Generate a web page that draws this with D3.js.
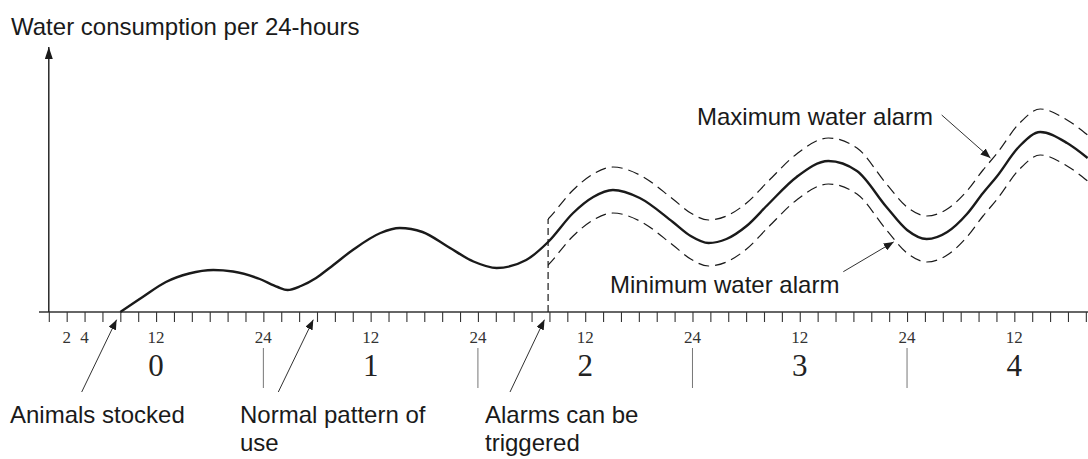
<!DOCTYPE html>
<html>
<head>
<meta charset="utf-8">
<script src="https://cdn.jsdelivr.net/npm/d3@7"></script>
<style>
  body { margin: 0; background: #fff; }
  svg { display: block; }
</style>
</head>
<body>
<svg id="chart" width="1088" height="459"></svg>
<script>
// ---- data ---------------------------------------------------------------
// Hours since day 0 began, and water consumption (arbitrary units) at each hour.
const usageHours  = [8, 10.5, 13.1, 15.7, 18.4, 20.6, 23.6, 25.6, 26.7, 28.2,
                     29.9, 31.4, 34.0, 37.1, 39.25, 41.8, 44.7, 47.5, 50.1, 53.4,
                     55.85, 58.65, 60.9, 63.1, 66.1, 69.8, 71.8, 73.8, 75.8, 78.05,
                     80.5, 83.65, 87.2, 90.4, 93.7, 96.0, 98.2, 100.5, 102.7, 104.5,
                     106.0, 108.6, 110.9, 113.9, 116.2];
const usageValues = [0, 15, 30, 38.5, 42, 40.5, 33, 25, 22, 26,
                     34, 44, 62, 79, 84, 80, 65, 50.5, 44, 52,
                     70, 99, 115, 122, 114, 90, 76, 69, 73, 86,
                     108, 135, 151, 141, 105, 82, 73, 80, 98, 119,
                     135, 166, 180, 169, 154];

// Alarms become active from this hour, with a band of +/- alarmMargin around the usage.
const alarmStartHour = 55.85;
const alarmMargin = 23;

// Hour-of-day labels under the axis.
const hourLabelHours = [2, 4, 12, 24, 36, 48, 60, 72, 84, 96, 108];
const hourLabelTexts = ["2", "4", "12", "24", "12", "24", "12", "24", "12", "24", "12"];

// Day numbers, centred on midday of each day.
const dayCentreHours = [12, 36, 60, 84, 108];
const dayLabels = ["0", "1", "2", "3", "4"];

// Day boundaries (24 h marks).
const dayBoundaryHours = [24, 48, 72, 96];

const tickStepHours = 2;
const lastTickHour = 116;

// ---- layout -------------------------------------------------------------
const W = 1088, H = 459;
const svg = d3.select("#chart");

const x = d3.scaleLinear().domain([0, 120]).range([48.8, 48.8 + 120 * 8.94]);
const y = d3.scaleLinear().domain([0, 265]).range([312, 47]);

const usage = usageHours.map((h, i) => ({ h, v: usageValues[i] }));

const sans = "'Liberation Sans', Arial, sans-serif";
const serif = "'Liberation Serif', 'Times New Roman', serif";
const ink = "#1a1a1a";

// arrowhead markers
const defs = svg.append("defs");
function addArrow(id, len, halfW) {
  defs.append("marker")
    .attr("id", id)
    .attr("markerUnits", "userSpaceOnUse")
    .attr("viewBox", `0 ${-halfW} ${len} ${2 * halfW}`)
    .attr("refX", len).attr("refY", 0)
    .attr("markerWidth", len).attr("markerHeight", 2 * halfW)
    .attr("orient", "auto")
    .append("path")
    .attr("d", `M0,${-halfW}L${len},0L0,${halfW}Z`)
    .attr("fill", ink);
}
addArrow("axisHead", 12, 4);
addArrow("callHead", 10, 4);

defs.append("clipPath").attr("id", "alarmClip")
  .append("rect")
  .attr("x", x(alarmStartHour)).attr("y", 0)
  .attr("width", W - x(alarmStartHour)).attr("height", H);

// ---- axes ---------------------------------------------------------------
const xAxis = d3.axisBottom(x)
  .tickValues(d3.range(0, lastTickHour + 1, tickStepHours))
  .tickSize(10)
  .tickFormat("");
const gx = svg.append("g").attr("transform", `translate(0,${y(0)})`).call(xAxis);
gx.select(".domain").remove();
gx.selectAll(".tick line").attr("stroke", "#333").attr("stroke-width", 1.1);

// horizontal axis line
svg.append("line")
  .attr("x1", 39).attr("x2", W)
  .attr("y1", y(0)).attr("y2", y(0))
  .attr("stroke", "#333").attr("stroke-width", 1.6);

// vertical axis with arrow
svg.append("line")
  .attr("x1", x(0)).attr("x2", x(0))
  .attr("y1", y(0)).attr("y2", y(265))
  .attr("stroke", ink).attr("stroke-width", 1.4)
  .attr("marker-end", "url(#axisHead)");

svg.append("text")
  .attr("x", 11).attr("y", 35)
  .attr("font-family", sans).attr("font-size", 24).attr("fill", ink)
  .text("Water consumption per 24-hours");

// hour labels
svg.append("g").selectAll("text")
  .data(hourLabelHours)
  .join("text")
  .attr("x", d => x(d))
  .attr("y", 343)
  .attr("text-anchor", "middle")
  .attr("font-family", serif).attr("font-size", 17).attr("fill", "#333")
  .text((d, i) => hourLabelTexts[i]);

// day numbers
svg.append("g").selectAll("text")
  .data(dayCentreHours)
  .join("text")
  .attr("x", d => x(d))
  .attr("y", 376)
  .attr("text-anchor", "middle")
  .attr("font-family", serif).attr("font-size", 31).attr("fill", "#222")
  .text((d, i) => dayLabels[i]);

// day separators
svg.append("g").selectAll("line")
  .data(dayBoundaryHours)
  .join("line")
  .attr("x1", d => x(d)).attr("x2", d => x(d))
  .attr("y1", 348).attr("y2", 388)
  .attr("stroke", "#777").attr("stroke-width", 1);

// ---- curves -------------------------------------------------------------
const smooth = d3.curveMonotoneX;
const line = d3.line().x(d => x(d.h)).y(d => y(d.v)).curve(smooth);

const usagePath = svg.append("path")
  .datum(usage)
  .attr("d", line)
  .attr("fill", "none").attr("stroke", ink).attr("stroke-width", 2.4);

const alarmLine = offset => d3.line()
  .x(d => x(d.h)).y(d => y(d.v + offset))
  .curve(smooth);

const upperPath = svg.append("path")
  .datum(usage)
  .attr("d", alarmLine(alarmMargin))
  .attr("clip-path", "url(#alarmClip)")
  .attr("fill", "none").attr("stroke", ink).attr("stroke-width", 1.2)
  .attr("stroke-dasharray", "11,6");

const lowerPath = svg.append("path")
  .datum(usage)
  .attr("d", alarmLine(-alarmMargin))
  .attr("clip-path", "url(#alarmClip)")
  .attr("fill", "none").attr("stroke", ink).attr("stroke-width", 1.2)
  .attr("stroke-dasharray", "11,6");

// y on a rendered path for a given pixel x
function pathYAt(node, px) {
  const total = node.getTotalLength();
  let lo = 0, hi = total;
  for (let k = 0; k < 40; k++) {
    const mid = (lo + hi) / 2;
    if (node.getPointAtLength(mid).x < px) lo = mid; else hi = mid;
  }
  return node.getPointAtLength((lo + hi) / 2).y;
}

// alarm start marker, up to where the upper alarm band begins
svg.append("line")
  .attr("x1", x(alarmStartHour)).attr("x2", x(alarmStartHour))
  .attr("y1", y(0)).attr("y2", pathYAt(upperPath.node(), x(alarmStartHour)))
  .attr("stroke", ink).attr("stroke-width", 1.2)
  .attr("stroke-dasharray", "7,4");

// ---- callouts -----------------------------------------------------------
const callouts = [
  { lines: ["Animals stocked"], tx: 10, ty: 423, tail: [81.7, 392],
    hour: 8, on: null, gap: 8.5 },
  { lines: ["Normal pattern of", "use"], tx: 240, ty: 423, tail: [278.3, 392],
    hour: 30, on: null, gap: 8.5 },
  { lines: ["Alarms can be", "triggered"], tx: 485, ty: 423, tail: [510, 392],
    hour: alarmStartHour, on: null, gap: 8.5 },
  { lines: ["Maximum water alarm"], tx: 697, ty: 125, tail: [941.7, 115],
    hour: 105.5, on: upperPath, gap: 2 },
  { lines: ["Minimum water alarm"], tx: 610, ty: 293, tail: [843.3, 271.7],
    hour: 94.7, on: lowerPath, gap: 2 }
];

callouts.forEach(c => {
  const px = x(c.hour);
  const py = c.on ? pathYAt(c.on.node(), px) : y(0);
  const dx = px - c.tail[0], dy = py - c.tail[1];
  const len = Math.hypot(dx, dy);
  const tip = [px - dx / len * c.gap, py - dy / len * c.gap];
  svg.append("line")
    .attr("x1", c.tail[0]).attr("y1", c.tail[1])
    .attr("x2", tip[0]).attr("y2", tip[1])
    .attr("stroke", ink).attr("stroke-width", 0.9)
    .attr("marker-end", "url(#callHead)");
  const t = svg.append("text")
    .attr("font-family", sans).attr("font-size", 24).attr("fill", ink);
  c.lines.forEach((s, i) => {
    t.append("tspan").attr("x", c.tx).attr("y", c.ty + i * 28).text(s);
  });
});
</script>
</body>
</html>
